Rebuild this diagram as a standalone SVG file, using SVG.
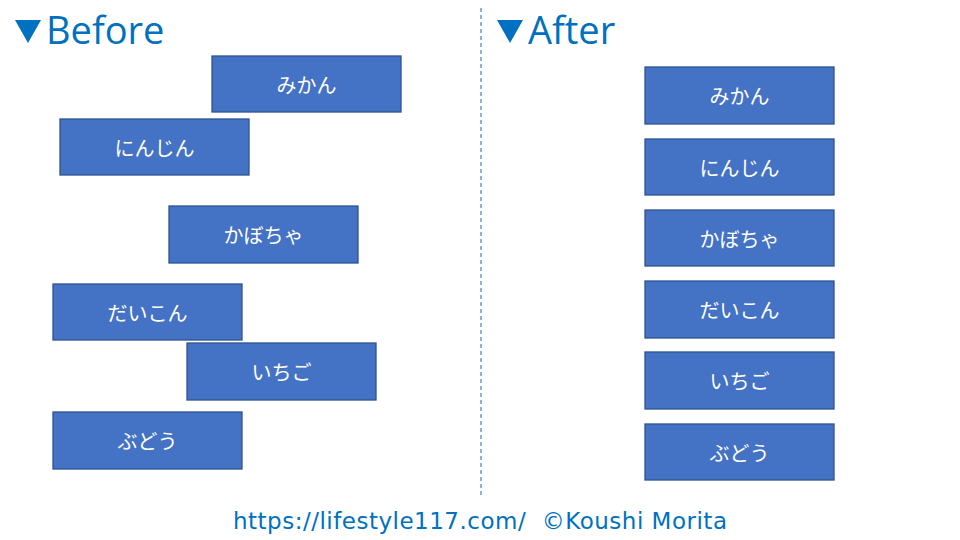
<svg xmlns="http://www.w3.org/2000/svg" width="960" height="540" viewBox="0 0 960 540">
<style>
.box rect{fill:#4472C4;stroke:#2F528F;stroke-width:1.3}
.box text{fill:#fff;font-family:"Noto Sans CJK JP","Noto Sans",sans-serif;font-size:20px;text-anchor:middle;dominant-baseline:central}
.title{fill:#0070C0;font-family:"Open Sans","Noto Sans",sans-serif;font-size:38px}
.foot{fill:#0070C0;font-family:"DejaVu Sans","Noto Sans",sans-serif;font-size:23px}
</style>
<rect width="960" height="540" fill="#fff"/>
<g id="titles">
<polygon points="15,20 41,20 28,43" fill="#0070C0"/>
<text class="title" x="46" y="44">Before</text>
<polygon points="497,20 523,20 510,43" fill="#0070C0"/>
<text class="title" x="528" y="44">After</text>
</g>
<g id="connectors">
<line x1="481" y1="8" x2="481" y2="498" stroke="#0070C0" stroke-width="1" stroke-dasharray="4,3"/>
</g>
<g id="b-mikan" class="box"><rect x="212" y="56" width="189" height="56"/><text x="306.5" y="84">みかん</text></g>
<g id="b-ninjin" class="box"><rect x="60" y="119" width="189" height="56"/><text x="154.5" y="147">にんじん</text></g>
<g id="b-kabocha" class="box"><rect x="169" y="206" width="189" height="57"/><text x="263.5" y="234.5">かぼちゃ</text></g>
<g id="b-daikon" class="box"><rect x="53" y="284" width="189" height="56"/><text x="147.5" y="312">だいこん</text></g>
<g id="b-ichigo" class="box"><rect x="187" y="343" width="189" height="57"/><text x="281.5" y="371.5">いちご</text></g>
<g id="b-budou" class="box"><rect x="53" y="412" width="189" height="57"/><text x="147.5" y="440.5">ぶどう</text></g>
<g id="a-mikan" class="box"><rect x="645" y="67" width="189" height="57"/><text x="739.5" y="95.5">みかん</text></g>
<g id="a-ninjin" class="box"><rect x="645" y="139" width="189" height="56"/><text x="739.5" y="167">にんじん</text></g>
<g id="a-kabocha" class="box"><rect x="645" y="210" width="189" height="56"/><text x="739.5" y="238">かぼちゃ</text></g>
<g id="a-daikon" class="box"><rect x="645" y="281" width="189" height="57"/><text x="739.5" y="309.5">だいこん</text></g>
<g id="a-ichigo" class="box"><rect x="645" y="352" width="189" height="57"/><text x="739.5" y="380.5">いちご</text></g>
<g id="a-budou" class="box"><rect x="645" y="424" width="189" height="56"/><text x="739.5" y="452">ぶどう</text></g>
<text class="foot" x="233" y="529" xml:space="preserve" textLength="494" lengthAdjust="spacing">https://lifestyle117.com/  ©Koushi Morita</text>
</svg>
